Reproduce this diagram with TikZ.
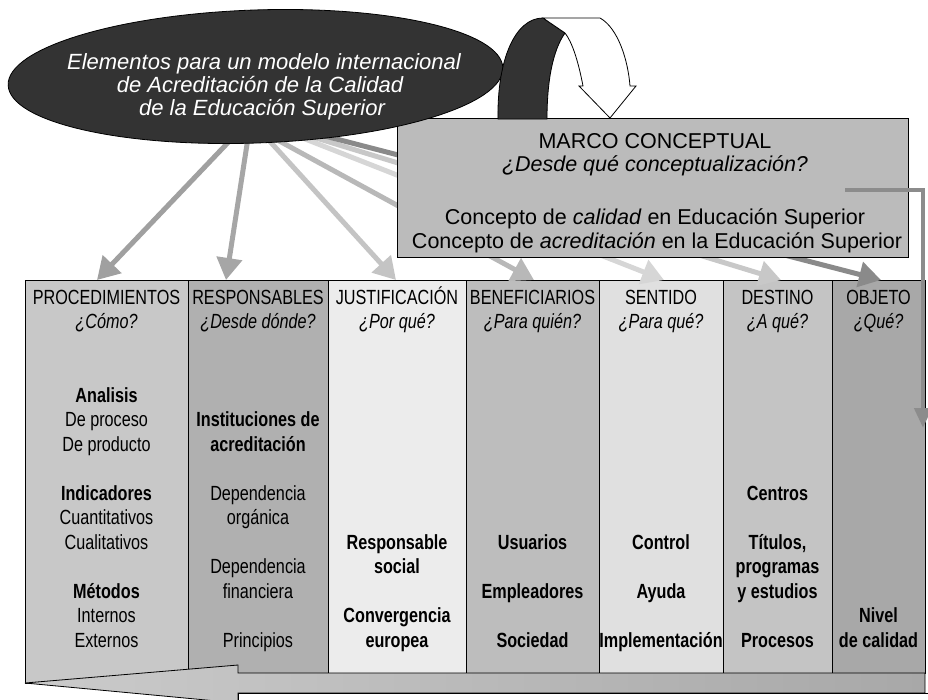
\documentclass[tikz,border=0pt]{standalone}
\usepackage{fontspec}
\setmainfont{Liberation Sans}
\newfontfamily\condf[FakeStretch=0.79]{Liberation Sans}
\usetikzlibrary{arrows.meta,shapes.geometric}
\definecolor{ellfill}{HTML}{333333}
\definecolor{marcofill}{HTML}{BBBBBB}
\definecolor{cA}{HTML}{C8C8C8}
\definecolor{cB}{HTML}{B0B0B0}
\definecolor{cC}{HTML}{ECECEC}
\definecolor{cD}{HTML}{BDBDBD}
\definecolor{cE}{HTML}{E0E0E0}
\definecolor{cF}{HTML}{C4C4C4}
\definecolor{cG}{HTML}{A8A8A8}
\definecolor{aA}{HTML}{A0A0A0}
\definecolor{aB}{HTML}{A6A6A6}
\definecolor{aC}{HTML}{C4C4C4}
\definecolor{aD}{HTML}{B8B8B8}
\definecolor{aE}{HTML}{D6D6D6}
\definecolor{aF}{HTML}{C8C8C8}
\definecolor{aG}{HTML}{8A8A8A}
\definecolor{bent}{HTML}{8C8C8C}
\begin{document}
\begin{tikzpicture}[x=1pt,y=-1pt,
  colbox/.style={draw=black,line width=0.8pt,inner sep=0pt,outer sep=0pt,anchor=north west,minimum height=393pt},
  conn/.style={line width=5pt,-{Triangle[length=22pt,width=25pt]}},
  tl/.style={anchor=base,inner sep=0pt,font=\condf\fontsize{20.5}{23}\selectfont},
  ttl/.style={anchor=base,inner sep=0pt,font=\fontsize{21.5}{24}\selectfont},
  etl/.style={anchor=base,inner sep=0pt,text=white,font=\itshape\fontsize{22}{24}\selectfont}]
\useasboundingbox (0,0) rectangle (928,699);
\clip (0,0) rectangle (928,699);
% columns
\node[colbox,fill=cA,minimum width=163pt,minimum height=403pt] (col1) at (25,280) {};
\node[colbox,fill=cB,minimum width=140pt] (col2) at (188,280) {};
\node[colbox,fill=cC,minimum width=138pt] (col3) at (328,280) {};
\node[colbox,fill=cD,minimum width=133pt] (col4) at (466,280) {};
\node[colbox,fill=cE,minimum width=124pt] (col5) at (599,280) {};
\node[colbox,fill=cF,minimum width=109pt] (col6) at (723,280) {};
\node[colbox,fill=cG,minimum width=93pt] (col7) at (832,280) {};
% arrow start / end coordinates
\coordinate (s1) at (240,130); \coordinate (t1) at (97,280);
\coordinate (s2) at (250,125); \coordinate (t2) at (226,280);
\coordinate (s3) at (255,125); \coordinate (t3) at (396,280);
\coordinate (s4) at (250,125); \coordinate (t4) at (534,280);
\coordinate (s5) at (290,133); \coordinate (t5) at (664,280);
\coordinate (s6) at (290,130); \coordinate (t6) at (781,280);
\coordinate (s7) at (290,127); \coordinate (t7) at (881,280);
\draw[conn,aE] (s5) -- (t5);
\draw[conn,aF] (s6) -- (t6);
\draw[conn,aG] (s7) -- (t7);
\draw[conn,aD] (s4) -- (t4);
\draw[conn,aC] (s3) -- (t3);
\draw[conn,aB] (s2) -- (t2);
\draw[conn,aA] (s1) -- (t1);
% marco conceptual box
\node[draw=black,line width=1pt,fill=marcofill,inner sep=0pt,anchor=north west,minimum width=511pt,minimum height=139pt] (marco) at (397,118) {};
% ellipse
\node[ellipse,draw=black,line width=0.8pt,fill=ellfill,minimum width=495pt,minimum height=133pt,inner sep=0pt,rotate=2] (ell) at (255.5,76.5) {};
% curved arrow
\fill[ellfill,draw=black,line width=0.8pt] (498,119) .. controls (497,60) and (515,18) .. (543,18) -- (565,33) .. controls (553,50) and (547,80) .. (547,119) -- cycle;
\filldraw[fill=white,draw=black,line width=0.8pt] (543,18) -- (600,18) .. controls (618,28) and (628,60) .. (630,86) -- (636,86) -- (610,118) -- (579,86) -- (583,86) .. controls (578,60) and (572,42) .. (565,33) -- cycle;
% bent gray arrow at right
\coordinate (b1) at (845,190);
\coordinate (b2) at (923,428);
\draw[bent,line width=4.5pt,-{Triangle[length=20pt,width=17pt]}] (b1) -| (b2);
% bottom arrow
\shade[left color=cA!95!white,right color=cG,draw=black,line width=0.8pt] (25,683) -- (238,665) -- (238,673) -- (925,673) -- (925,693) -- (238,693) -- (238,703) -- cycle;
\draw[fill=white,line width=0.8pt] (238,693) rectangle (960,740);
% ellipse text
\node[etl] (e1) at (264,69) {Elementos para un modelo internacional};
\node[etl] (e2) at (260,92) {de Acreditación de la Calidad};
\node[etl] (e3) at (262,115) {de la Educación Superior};
% marco text
\node[ttl] (m1) at (655,148) {MARCO CONCEPTUAL};
\node[ttl] (m2) at (655,171) {\itshape ¿Desde qué conceptualización?};
\node[ttl] (m3) at (655,224) {Concepto de \textit{calidad} en Educación Superior};
\node[ttl] (m4) at (657,248) {Concepto de \textit{acreditación} en la Educación Superior};
% column texts
\foreach \r/\t in {0/{PROCEDIMIENTOS},1/{\itshape ¿Cómo?},4/{\bfseries Analisis},5/{De proceso},6/{De producto},8/{\bfseries Indicadores},9/{Cuantitativos},10/{Cualitativos},12/{\bfseries Métodos},13/{Internos},14/{Externos}}
  \node[tl] (pa\r) at (106.5,{304+24.5*\r}) {\t};
\foreach \r/\t in {0/{RESPONSABLES},1/{\itshape ¿Desde dónde?},5/{\bfseries Instituciones de},6/{\bfseries acreditación},8/{Dependencia},9/{orgánica},11/{Dependencia},12/{financiera},14/{Principios}}
  \node[tl] (pb\r) at (258,{304+24.5*\r}) {\t};
\foreach \r/\t in {0/{JUSTIFICACIÓN},1/{\itshape ¿Por qué?},10/{\bfseries Responsable},11/{\bfseries social},13/{\bfseries Convergencia},14/{\bfseries europea}}
  \node[tl] (pc\r) at (397,{304+24.5*\r}) {\t};
\foreach \r/\t in {0/{BENEFICIARIOS},1/{\itshape ¿Para quién?},10/{\bfseries Usuarios},12/{\bfseries Empleadores},14/{\bfseries Sociedad}}
  \node[tl] (pd\r) at (532.5,{304+24.5*\r}) {\t};
\foreach \r/\t in {0/{SENTIDO},1/{\itshape ¿Para qué?},10/{\bfseries Control},12/{\bfseries Ayuda},14/{\bfseries Implementación}}
  \node[tl] (pe\r) at (661,{304+24.5*\r}) {\t};
\foreach \r/\t in {0/{DESTINO},1/{\itshape ¿A qué?},8/{\bfseries Centros},10/{\bfseries Títulos,},11/{\bfseries programas},12/{\bfseries y estudios},14/{\bfseries Procesos}}
  \node[tl] (pf\r) at (777.5,{304+24.5*\r}) {\t};
\foreach \r/\t in {0/{OBJETO},1/{\itshape ¿Qué?},13/{\bfseries Nivel},14/{\bfseries de calidad}}
  \node[tl] (pg\r) at (878.5,{304+24.5*\r}) {\t};
\end{tikzpicture}
\end{document}
